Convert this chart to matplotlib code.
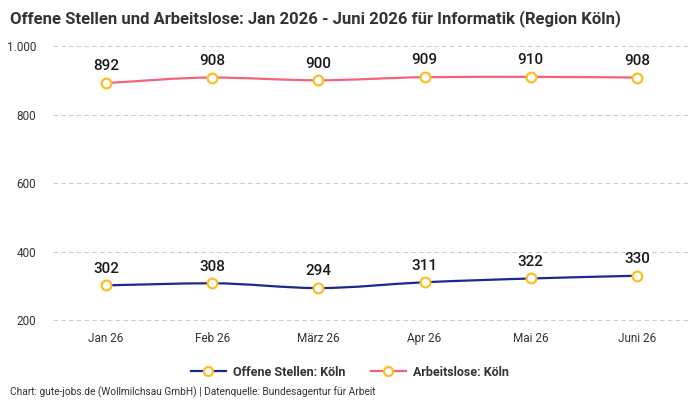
import matplotlib
matplotlib.use("Agg")
import matplotlib.pyplot as plt
import numpy as np
from matplotlib.path import Path
from matplotlib.patches import PathPatch
from matplotlib.lines import Line2D
from matplotlib.ticker import FuncFormatter

months = ["Jan 26", "Feb 26", "März 26", "Apr 26", "Mai 26", "Juni 26"]
offene = [302, 308, 294, 311, 322, 330]
arbeitslose = [892, 908, 900, 909, 910, 908]

BLUE = "#1b2a8a"
PINK = "#f2647c"
YELLOW = "#fbbf24"


def monotone_path(x, y):
    # cubic bezier segments with monotone (Fritsch-Carlson) tangents
    x = np.asarray(x, float)
    y = np.asarray(y, float)
    n = len(x)
    h = np.diff(x)
    d = np.diff(y) / h
    m = np.zeros(n)
    m[0], m[-1] = d[0], d[-1]
    for i in range(1, n - 1):
        if d[i - 1] * d[i] <= 0:
            m[i] = 0
        else:
            m[i] = (d[i - 1] + d[i]) / 2
            s = min(abs(d[i - 1]), abs(d[i]))
            m[i] = np.sign(m[i]) * min(abs(m[i]), 3 * s)
    verts = [(x[0], y[0])]
    codes = [Path.MOVETO]
    for i in range(n - 1):
        dx = h[i] / 3
        verts += [(x[i] + dx, y[i] + m[i] * dx),
                  (x[i + 1] - dx, y[i + 1] - m[i + 1] * dx),
                  (x[i + 1], y[i + 1])]
        codes += [Path.CURVE4] * 3
    return Path(verts, codes)


plt.rcParams["font.family"] = ["Roboto", "DejaVu Sans"]
fig = plt.figure(figsize=(7, 4), dpi=100)
ax = fig.add_axes([0.0757, 0.1975, 0.91, 0.6875])

xs = np.arange(len(months))
for vals, color in ((offene, BLUE), (arbeitslose, PINK)):
    ax.add_patch(PathPatch(monotone_path(xs, vals), facecolor="none",
                           edgecolor=color, linewidth=1.6, zorder=3))
    ax.plot(xs, vals, linestyle="none", marker="o", markersize=7,
            markerfacecolor="white", markeredgecolor=YELLOW,
            markeredgewidth=1.6, zorder=4, clip_on=False)
    for xi, v in zip(xs, vals):
        ax.annotate(str(v), (xi, v), xytext=(0, 7), textcoords="offset points",
                    ha="center", va="bottom", fontsize=11, color="#1a1a1a",
                    fontweight="medium")

ax.set_xlim(-0.5, len(months) - 0.5)
ax.set_ylim(198, 1000)
ax.set_yticks([200, 400, 600, 800, 1000])
ax.yaxis.set_major_formatter(FuncFormatter(lambda v, p: f"{int(v):,}".replace(",", ".")))
ax.set_xticks(xs)
ax.set_xticklabels(months)
ax.tick_params(axis="both", length=0, labelsize=8.5, colors="#333333")
ax.tick_params(axis="x", pad=8)
ax.tick_params(axis="y", pad=12)
ax.grid(axis="y", color="#cccccc", linestyle=(0, (4, 3)), linewidth=0.8)
for s in ax.spines.values():
    s.set_visible(False)

fig.text(0.014, 0.975, "Offene Stellen und Arbeitslose: Jan 2026 - Juni 2026 für Informatik (Region Köln)",
         ha="left", va="top", fontsize=12, fontweight="bold", color="#333333")

handles = [
    Line2D([0], [0], color=BLUE, linewidth=1.6, marker="o", markersize=6.5,
           markerfacecolor="white", markeredgecolor=YELLOW, markeredgewidth=1.6),
    Line2D([0], [0], color=PINK, linewidth=1.6, marker="o", markersize=6.5,
           markerfacecolor="white", markeredgecolor=YELLOW, markeredgewidth=1.6),
]
fig.legend(handles, ["Offene Stellen: Köln", "Arbeitslose: Köln"], loc="center",
           bbox_to_anchor=(0.5, 0.07), ncol=2, frameon=False, handlelength=2.8,
           handletextpad=0.6, columnspacing=2.0, prop={"size": 9, "weight": "bold"},
           labelcolor="#333333")

fig.text(0.014, 0.006, "Chart: gute-jobs.de (Wollmilchsau GmbH) | Datenquelle: Bundesagentur für Arbeit",
         ha="left", va="bottom", fontsize=7.3, color="#333333")

fig.savefig("out.png", dpi=100, facecolor="white")
